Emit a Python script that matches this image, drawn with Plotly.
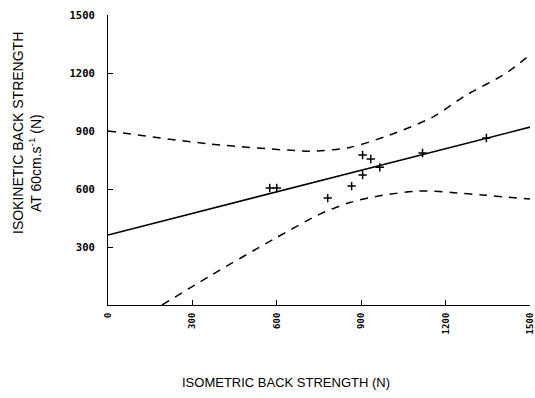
import plotly.graph_objects as go

# Observed data points (isometric vs isokinetic back strength, N)
pts_x = [575, 600, 781, 866, 905, 905, 934, 966, 1118, 1345]
pts_y = [605, 605, 553, 615, 672, 776, 755, 712, 786, 864]

# Regression line end points
reg_x = [0, 1500]
reg_y = [362, 920]

# Upper confidence band
up_x = [0, 362, 682, 728, 859, 1001, 1154, 1274, 1416, 1500]
up_y = [900, 833, 797, 795, 815, 879, 972, 1086, 1200, 1295]

# Lower confidence band
lo_x = [192, 362, 586, 753, 860, 966, 1108, 1221, 1331, 1500]
lo_y = [0, 150, 338, 470, 530, 565, 590, 582, 569, 548]

xticks = [0, 300, 600, 900, 1200, 1500]
yticks = [300, 600, 900, 1200, 1500]

fig = go.Figure()
dash = dict(color="black", width=1.5, dash="8px,7px")
fig.add_trace(go.Scatter(x=up_x, y=up_y, mode="lines", line=dict(**dash, shape="spline", smoothing=0.8)))
fig.add_trace(go.Scatter(x=lo_x, y=lo_y, mode="lines", line=dict(**dash, shape="spline", smoothing=0.8)))
fig.add_trace(go.Scatter(x=reg_x, y=reg_y, mode="lines", line=dict(color="black", width=1.6)))
fig.add_trace(go.Scatter(x=pts_x, y=pts_y, mode="markers",
                         marker=dict(symbol="cross-thin-open", size=6, color="black",
                                     line=dict(color="black", width=1.5))))

xtickfont = dict(family="DejaVu Sans Mono", size=9, color="black", weight="bold")
ytickfont = dict(family="DejaVu Sans Mono", size=10.5, color="black", weight="bold")
PW = 422
fig.update_layout(
    width=535, height=398,
    margin=dict(l=108, r=5, t=15, b=93, autoexpand=False),
    paper_bgcolor="white", plot_bgcolor="white",
    showlegend=False,
    xaxis=dict(range=[0, 1500], tickvals=xticks, ticktext=[str(v) for v in xticks],
               tickangle=-90, ticks="inside", ticklen=5, tickcolor="black", automargin=False,
               ticklabeloverflow="allow", ticklabelstandoff=3,
               showline=True, linecolor="black", linewidth=1.2, showgrid=False, zeroline=False,
               tickfont=xtickfont),
    yaxis=dict(range=[0, 1500], tickvals=yticks, ticktext=[str(v) for v in yticks],
               ticks="inside", ticklen=5, tickcolor="black", automargin=False,
               ticklabeloverflow="allow", ticklabelstandoff=10,
               showline=True, linecolor="black", linewidth=1.2, showgrid=False, zeroline=False,
               tickfont=ytickfont),
    annotations=[
        dict(text="ISOMETRIC BACK STRENGTH (N)", xref="paper", yref="paper", x=(286-108)/PW, y=-(382-305)/290,
             showarrow=False, font=dict(family="Liberation Sans", size=13, color="black"), xanchor="center", yanchor="middle"),
        dict(text="ISOKINETIC BACK STRENGTH", xref="paper", yref="paper", x=-(108-18)/PW, y=(305-133)/290,
             showarrow=False, textangle=-90, font=dict(family="Liberation Sans", size=14, color="black"), xanchor="center", yanchor="middle"),
        dict(text="AT 60cm.s<sup>-1</sup> (N)", xref="paper", yref="paper", x=-(108-35)/PW, y=(305-163)/290,
             showarrow=False, textangle=-90, font=dict(family="Liberation Sans", size=14, color="black"), xanchor="center", yanchor="middle"),
    ],
)
fig.write_html("out.html", config={"displayModeBar": False},
               post_script="document.body.style.margin='0';document.body.style.overflow='hidden';")
